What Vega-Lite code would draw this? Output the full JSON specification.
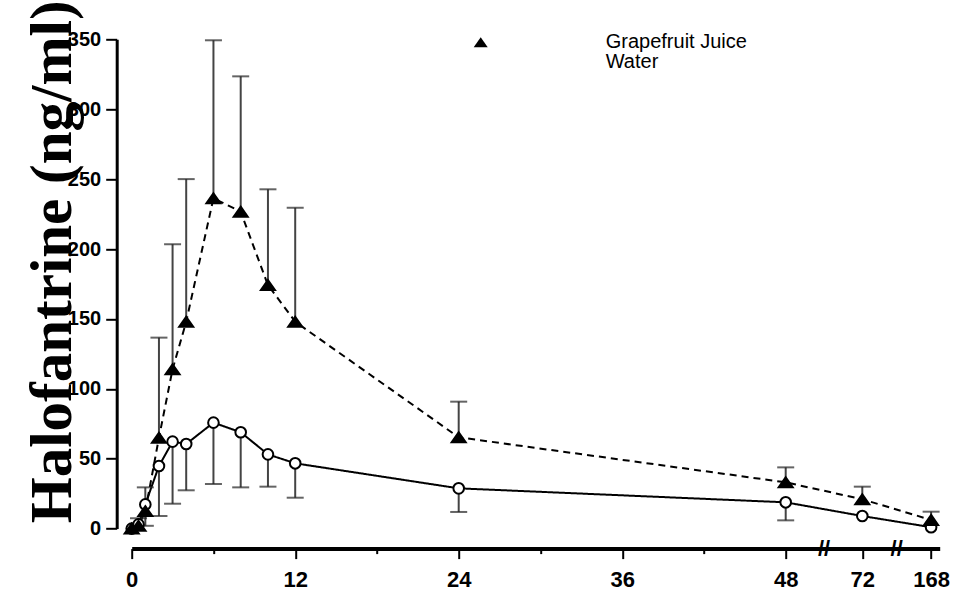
{
  "$schema": "https://vega.github.io/schema/vega-lite/v6.json",
  "width": 808,
  "height": 489.3,
  "autosize": "none",
  "padding": {"left": 131.7, "top": 39.3, "right": 24.3, "bottom": 67.4},
  "background": "white",
  "config": {"view": {"stroke": null}, "axis": {"grid": false}},
  "data": {
    "values": [
      {"series": "Grapefruit Juice", "time": 0, "mean": 0, "bound": null},
      {"series": "Grapefruit Juice", "time": 0.5, "mean": 2, "bound": 7.4},
      {"series": "Grapefruit Juice", "time": 1, "mean": 12.5, "bound": 29.5},
      {"series": "Grapefruit Juice", "time": 2, "mean": 65, "bound": 136.6},
      {"series": "Grapefruit Juice", "time": 3, "mean": 114, "bound": 203.4},
      {"series": "Grapefruit Juice", "time": 4, "mean": 148, "bound": 250},
      {"series": "Grapefruit Juice", "time": 6, "mean": 236.3, "bound": 349.3},
      {"series": "Grapefruit Juice", "time": 8, "mean": 226.7, "bound": 323.5},
      {"series": "Grapefruit Juice", "time": 10, "mean": 174.2, "bound": 242.7},
      {"series": "Grapefruit Juice", "time": 12, "mean": 148, "bound": 229.5},
      {"series": "Grapefruit Juice", "time": 24, "mean": 65.3, "bound": 90.8},
      {"series": "Grapefruit Juice", "time": 48, "mean": 33.1, "bound": 43.8},
      {"series": "Grapefruit Juice", "time": 72, "mean": 21, "bound": 30},
      {"series": "Grapefruit Juice", "time": 168, "mean": 6.2, "bound": 12.1},
      {"series": "Water", "time": 0, "mean": 0, "bound": null},
      {"series": "Water", "time": 0.5, "mean": 3, "bound": null},
      {"series": "Water", "time": 1, "mean": 17.3, "bound": 2},
      {"series": "Water", "time": 2, "mean": 44.8, "bound": 9},
      {"series": "Water", "time": 3, "mean": 62.2, "bound": 17.8},
      {"series": "Water", "time": 4, "mean": 60.5, "bound": 27.4},
      {"series": "Water", "time": 6, "mean": 75.8, "bound": 31.9},
      {"series": "Water", "time": 8, "mean": 68.9, "bound": 29.5},
      {"series": "Water", "time": 10, "mean": 53.1, "bound": 30},
      {"series": "Water", "time": 12, "mean": 46.7, "bound": 22.1},
      {"series": "Water", "time": 24, "mean": 28.8, "bound": 11.9},
      {"series": "Water", "time": 48, "mean": 18.8, "bound": 5.9},
      {"series": "Water", "time": 72, "mean": 9, "bound": null},
      {"series": "Water", "time": 168, "mean": 1, "bound": null}
    ]
  },
  "layer": [
    {
      "mark": {"type": "line", "color": "black", "strokeWidth": 2},
      "encoding": {
        "x": {
          "field": "time", "type": "quantitative",
          "scale": {"domain": [0, 48, 72, 168], "range": [0, 654, 730.6, 808]},
          "axis": {
            "values": [0, 6, 12, 18, 24, 30, 36, 42, 48, 72, 168],
            "labelExpr": "datum.value % 12 === 0 ? datum.label : ''",
            "title": null,
            "offset": 20,
            "domainColor": "black", "domainWidth": 4,
            "tickColor": "black", "tickWidth": 2,
            "tickSize": {"condition": {"test": "datum.value % 12 === 0", "value": 10}, "value": 5},
            "labelFont": "Liberation Sans", "labelFontWeight": "bold", "labelFontSize": 22,
            "labelColor": "black", "labelPadding": 11,
            "labelFlush": false, "labelOverlap": false
          }
        },
        "y": {
          "field": "mean", "type": "quantitative",
          "scale": {"domain": [0, 350], "nice": false},
          "axis": {
            "values": [0, 25, 50, 75, 100, 125, 150, 175, 200, 225, 250, 275, 300, 325, 350],
            "labelExpr": "datum.value % 50 === 0 ? datum.label : ''",
            "offset": 15,
            "domainColor": "black", "domainWidth": 3,
            "tickColor": "black", "tickWidth": 2,
            "tickSize": {"condition": {"test": "datum.value % 50 === 0", "value": 11}, "value": 6},
            "labelFont": "Liberation Sans", "labelFontWeight": "bold", "labelFontSize": 20,
            "labelColor": "black", "labelPadding": 5,
            "labelOverlap": false,
            "title": "Halofantrine (ng/ml)",
            "titleFont": "Liberation Serif", "titleFontWeight": "bold", "titleFontSize": 59,
            "titleColor": "black", "titleX": -46, "titleY": 222,
            "titleAlign": "center", "titleBaseline": "alphabetic"
          }
        },
        "detail": {"field": "series"},
        "strokeDash": {"condition": {"test": "datum.series === 'Grapefruit Juice'", "value": [7, 5]}, "value": [1, 0]}
      }
    },
    {
      "transform": [{"filter": "isValid(datum.bound)"}],
      "mark": {"type": "rule", "color": "#444444", "strokeWidth": 2},
      "encoding": {
        "x": {"field": "time", "type": "quantitative"},
        "y": {"field": "mean", "type": "quantitative"},
        "y2": {"field": "bound"}
      }
    },
    {
      "transform": [{"filter": "isValid(datum.bound)"}],
      "mark": {"type": "tick", "orient": "horizontal", "color": "#222222", "size": 17, "thickness": 2},
      "encoding": {
        "x": {"field": "time", "type": "quantitative"},
        "y": {"field": "bound", "type": "quantitative"}
      }
    },
    {
      "mark": {"type": "point", "filled": true, "size": 113, "stroke": "black", "strokeWidth": 2, "opacity": 1},
      "encoding": {
        "x": {"field": "time", "type": "quantitative"},
        "y": {"field": "mean", "type": "quantitative"},
        "order": {"field": "series", "sort": "descending"},
        "fill": {
          "field": "series", "type": "nominal",
          "scale": {"domain": ["Grapefruit Juice", "Water"], "range": ["black", "white"]}
        },
        "shape": {
          "field": "series", "type": "nominal",
          "scale": {"domain": ["Grapefruit Juice", "Water"], "range": ["M0,-0.94L1.32,0.94L-1.32,0.94Z", "circle"]},
          "legend": {
            "orient": "none", "legendX": 339, "legendY": -7,
            "title": null,
            "symbolSize": 113,
            "symbolStrokeColor": "black",
            "symbolStrokeWidth": 2,
            "labelFont": "Liberation Sans", "labelFontSize": 20, "labelColor": "black",
            "labelOffset": 115, "rowPadding": -3, "labelBaseline": "middle"
          }
        }
      }
    },
    {
      "data": {"values": [{"time": 60}, {"time": 120}]},
      "mark": {"type": "text", "text": "//", "fontSize": 22, "fontWeight": "bold", "font": "Liberation Sans", "color": "black", "dy": 20},
      "encoding": {
        "x": {"field": "time", "type": "quantitative"},
        "y": {"datum": 0}
      }
    }
  ]
}
